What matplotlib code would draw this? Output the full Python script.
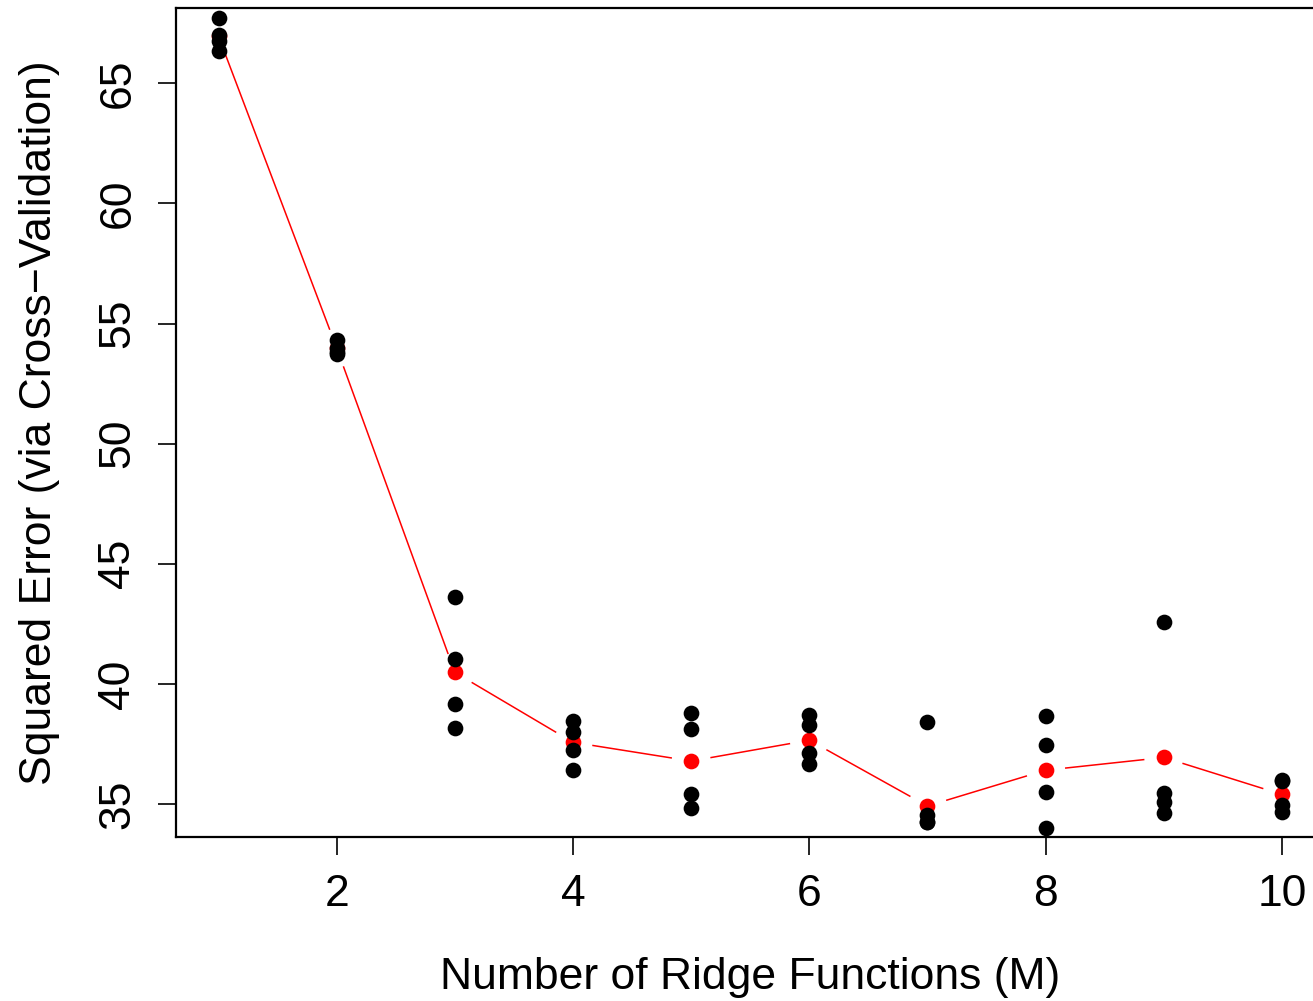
import numpy as np
import matplotlib
matplotlib.use("Agg")
import matplotlib.pyplot as plt

plt.rcParams["font.family"] = ["Liberation Sans", "DejaVu Sans"]

# number of ridge functions
M = [1, 2, 3, 4, 5, 6, 7, 8, 9, 10]

# cross-validation errors per fold
folds = [
    [67.7, 67.0, 66.75, 66.35],
    [54.3, 54.0, 53.8, 53.75],
    [43.6, 41.02, 39.17, 38.16],
    [38.47, 37.98, 37.25, 36.41],
    [38.8, 38.11, 35.4, 34.82],
    [38.7, 38.29, 37.11, 36.65],
    [38.42, 34.54, 34.26, 34.26],
    [38.67, 37.45, 35.49, 33.99],
    [42.58, 35.47, 35.1, 34.61],
    [35.99, 35.97, 34.96, 34.68],
]

# average error (red)
avg = [66.95, 53.98, 40.48, 37.57, 36.79, 37.66, 34.92, 36.41, 36.94, 35.4]

W, H = 1313, 1001
fig = plt.figure(figsize=(W / 100, H / 100), dpi=100)
ax = fig.add_axes([176 / W, 1 - 837 / H, (1324.5 - 176) / W, (837 - 8) / H])
ax.set_xlim(0.64, 10.36)
ax.set_ylim(33.63, 68.13)

# red line with gaps round the points (like R type="b")
pts = ax.transData.transform(np.column_stack([M, avg]))
gap = 19.5
for a, b in zip(pts[:-1], pts[1:]):
    d = b - a
    L = np.hypot(*d)
    if L <= 2 * gap:
        continue
    u = d / L
    seg = ax.transData.inverted().transform(np.array([a + u * gap, b - u * gap]))
    ax.plot(seg[:, 0], seg[:, 1], color="red", lw=1.1, zorder=2, solid_capstyle="butt")
ax.plot(M, avg, "o", color="red", ms=11.3, mec="none", zorder=3)

for m, f in zip(M, folds):
    ax.plot([m] * len(f), f, "o", color="black", ms=11.3, mec="none", zorder=4)

for s in ax.spines.values():
    s.set_linewidth(1.6)

ax.set_xticks([2, 4, 6, 8, 10])
ax.set_yticks([35, 40, 45, 50, 55, 60, 65])
ax.tick_params(length=13, width=1.2, labelsize=32, pad=14)
for t in ax.get_yticklabels():
    t.set_rotation(90)
    t.set_va("center")

ax.set_xlabel("Number of Ridge Functions (M)", fontsize=32, labelpad=30)
ax.set_ylabel("Squared Error (via Cross\u2212Validation)", fontsize=32, labelpad=27)

fig.savefig("out.png", dpi=100)
